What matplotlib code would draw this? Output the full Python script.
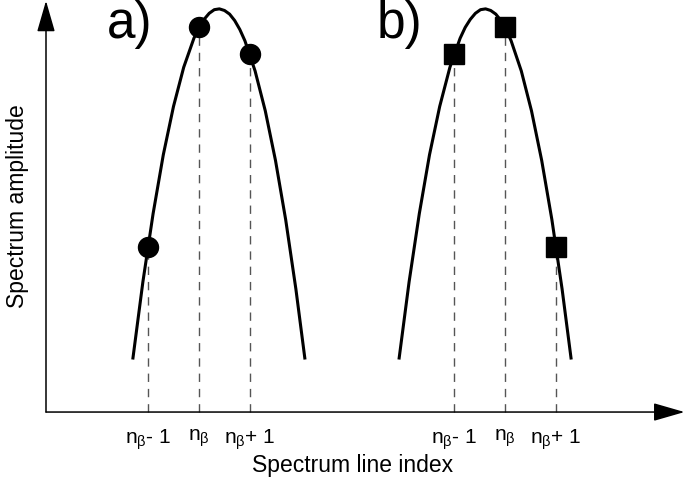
import matplotlib
matplotlib.use("Agg")
import matplotlib.pyplot as plt

# ── fonts ────────────────────────────────────────────────
plt.rcParams['font.family'] = ['Liberation Sans', 'DejaVu Sans']
plt.rcParams['mathtext.fontset'] = 'custom'
plt.rcParams['mathtext.rm'] = 'Liberation Sans'
plt.rcParams['mathtext.it'] = 'Liberation Sans:italic'
plt.rcParams['mathtext.default'] = 'regular'

# ── data (x in spectrum-line units, y in relative amplitude) ──
curve_a_x = [1.705, 1.9, 2.1, 2.3, 2.5, 2.7, 2.9, 3.0, 3.1, 3.2, 3.3, 3.4,
             3.5, 3.6, 3.7, 3.8, 3.9, 4.1, 4.3, 4.5, 4.7, 4.9, 5.075]
curve_a_y = [0.134, 0.323, 0.492, 0.638, 0.758, 0.855, 0.927, 0.954, 0.974, 0.989, 0.998, 1.000,
             0.996, 0.987, 0.971, 0.949, 0.921, 0.846, 0.747, 0.624, 0.477, 0.305, 0.134]

curve_b_x = [6.925, 7.12, 7.32, 7.52, 7.72, 7.92, 8.12, 8.22, 8.32, 8.42, 8.52, 8.62,
             8.72, 8.82, 8.92, 9.02, 9.12, 9.32, 9.52, 9.72, 9.92, 10.12, 10.295]
curve_b_y = [0.134, 0.323, 0.492, 0.638, 0.758, 0.855, 0.927, 0.954, 0.974, 0.989, 0.998, 1.000,
             0.996, 0.987, 0.971, 0.949, 0.921, 0.846, 0.747, 0.624, 0.477, 0.305, 0.134]

points_a_x = [2, 3, 4]
points_a_y = [0.41, 0.954, 0.887]
points_b_x = [8, 9, 10]
points_b_y = [0.887, 0.954, 0.41]

tick_pos    = [2, 3, 4, 8, 9, 10]
tick_labels = [r"$n_{\beta}$- 1", r"$n_{\beta}$", r"$n_{\beta}$+ 1"] * 2

# ── figure ───────────────────────────────────────────────
fig = plt.figure(figsize=(6.85, 4.83), dpi=100)
ax = fig.add_axes([0, 0, 1, 1])
ax.set_xlim(-0.902, 12.53)
ax.set_ylim(-0.176, 1.022)

# axes with arrow heads
arrow = dict(arrowstyle="-|>,head_length=0.97,head_width=0.28", mutation_scale=20,
             lw=1.1, color="black", shrinkA=0, shrinkB=0)
ax.annotate("", xy=(12.52, 0), xytext=(0, 0), arrowprops=arrow)
ax.annotate("", xy=(0, 1.02), xytext=(0, 0), arrowprops=arrow)

# dashed drop lines
ax.vlines(points_a_x, 0, points_a_y, colors="#555555", linewidth=1.0, linestyles=(0, (6, 5)))
ax.vlines(points_b_x, 0, points_b_y, colors="#555555", linewidth=1.0, linestyles=(0, (6, 5)))

# curves + samples
ax.plot(curve_a_x, curve_a_y, color="black", linewidth=2.2)
ax.plot(curve_b_x, curve_b_y, color="black", linewidth=2.2)
ax.plot(points_a_x, points_a_y, "o", color="black", markersize=14.4, zorder=5)
ax.plot(points_b_x, points_b_y, "s", color="black", markersize=15, zorder=5)

# panel letters
ax.text(1.2, 0.928, "a)", fontsize=37, ha="left", va="baseline")
ax.text(6.49, 0.928, "b)", fontsize=37, ha="left", va="baseline")

# ticks follow the x-axis line at y=0
for s in ["top", "right", "left"]:
    ax.spines[s].set_visible(False)
ax.spines["bottom"].set_position(("data", 0))
ax.spines["bottom"].set_visible(False)
ax.set_xticks(tick_pos, tick_labels)
ax.set_yticks([])
ax.tick_params(axis="x", length=0, pad=11, labelsize=15)

ax.set_xlabel("Spectrum line index", fontsize=16.5, va="center")
ax.xaxis.set_label_coords(0.515, 0.037)
ax.set_ylabel("Spectrum amplitude", fontsize=16.5, va="center")
ax.yaxis.set_label_coords(0.026, 0.573)

fig.savefig("out.png", dpi=100)
